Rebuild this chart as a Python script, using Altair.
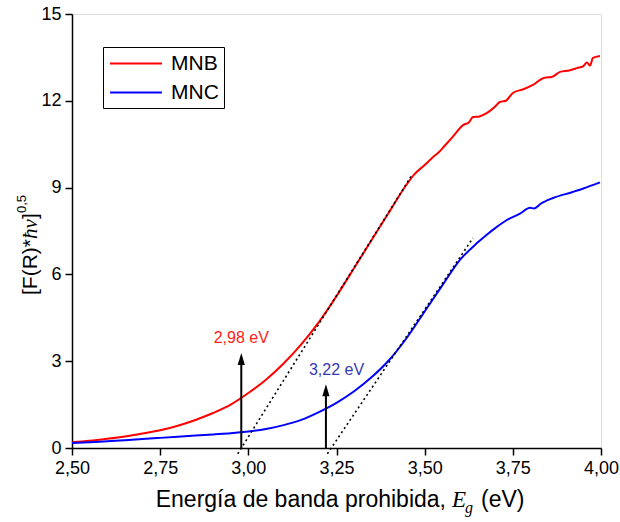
import altair as alt
import pandas as pd

# Sample spectra: photon energy (eV) vs Kubelka-Munk transform [F(R)*hv]^0.5
energy_mnb = [2.50, 2.55, 2.60, 2.65, 2.70, 2.75, 2.80, 2.85, 2.90, 2.95,
              3.00, 3.05, 3.10, 3.15, 3.20, 3.25, 3.30, 3.35, 3.40, 3.444,
              3.47, 3.50, 3.524, 3.54, 3.555, 3.58, 3.609, 3.625, 3.637, 3.655,
              3.677, 3.70, 3.713, 3.73, 3.75, 3.78, 3.807, 3.84, 3.86, 3.884,
              3.91, 3.932, 3.95, 3.96, 3.969, 3.977, 3.997]
mnb = [0.20, 0.25, 0.32, 0.40, 0.50, 0.61, 0.77, 0.97, 1.21, 1.50,
       1.90, 2.36, 2.92, 3.58, 4.35, 5.25, 6.22, 7.20, 8.17, 9.02,
       9.45, 9.78, 10.06, 10.22, 10.42, 10.76, 11.16, 11.25, 11.44, 11.46,
       11.58, 11.80, 11.96, 12.00, 12.27, 12.40, 12.55, 12.80, 12.82, 13.00,
       13.05, 13.13, 13.20, 13.32, 13.22, 13.48, 13.55]

energy_mnc = [2.50, 2.55, 2.60, 2.65, 2.70, 2.75, 2.80, 2.85, 2.90, 2.95,
              3.00, 3.05, 3.10, 3.15, 3.20, 3.25, 3.30, 3.35, 3.40, 3.45,
              3.50, 3.521, 3.55, 3.60, 3.65, 3.677, 3.70, 3.733, 3.77, 3.799,
              3.81, 3.83, 3.864, 3.92, 3.95, 3.997]
mnc = [0.17, 0.20, 0.23, 0.27, 0.31, 0.35, 0.39, 0.43, 0.47, 0.51,
       0.57, 0.66, 0.79, 0.97, 1.24, 1.56, 1.96, 2.45, 3.05, 3.82,
       4.72, 5.10, 5.62, 6.50, 7.10, 7.38, 7.60, 7.88, 8.10, 8.30,
       8.28, 8.45, 8.64, 8.85, 8.97, 9.18]

samples = ["MNB", "MNC"]
line_colors = ["#ff0000", "#0000ff"]

# Band-gap estimates (x-intercept of the linear fit) and tangent segments
band_gap = [2.98, 3.22]
gap_labels = ["2,98 eV", "3,22 eV"]
gap_label_colors = ["#ff2020", "#3838b4"]
tangent_x = [[2.970, 3.465], [3.224, 3.637]]
tangent_y = [[-0.20, 9.46], [-0.20, 7.26]]
arrow_top = [3.08, 2.00]
label_x = [2.98, 3.25]
label_y = [3.80, 2.70]

x_ticks = [2.50, 2.75, 3.00, 3.25, 3.50, 3.75, 4.00]
y_ticks = [0, 3, 6, 9, 12, 15]

SANS = "Liberation Sans"
SERIF = "Liberation Serif"

curves = pd.concat([
    pd.DataFrame({"E": energy_mnb, "v": mnb, "muestra": "MNB"}),
    pd.DataFrame({"E": energy_mnc, "v": mnc, "muestra": "MNC"}),
])
tangents = pd.concat([
    pd.DataFrame({"E": tangent_x[i], "v": tangent_y[i], "muestra": samples[i]})
    for i in range(2)
])
arrows = pd.DataFrame({"E": band_gap, "top": arrow_top, "base": [0, 0]})
notes = pd.DataFrame({"E": label_x, "v": label_y, "txt": gap_labels, "col": gap_label_colors})

axis_common = dict(
    title=None, grid=False, tickSize=7, tickWidth=1.5, tickColor="black",
    domainColor="black", domainWidth=1.5, labelFont=SANS, labelFontSize=18,
    labelColor="black", labelPadding=4, labelFlush=False, labelOverlap=False,
)

x_enc = alt.X("E:Q", scale=alt.Scale(domain=[2.5, 4.0], nice=False),
              axis=alt.Axis(values=x_ticks, format=".2f",
                            labelExpr="replace(datum.label, '.', ',')", **axis_common))
y_enc = alt.Y("v:Q", scale=alt.Scale(domain=[0, 15], nice=False),
              axis=alt.Axis(values=y_ticks, format="d", **axis_common))

# Legend key: a long flat stroke drawn from a compact symbol footprint
legend_key = "M-0.905,0 L4.048,0"

lines = alt.Chart(curves).mark_line(strokeWidth=2, interpolate="monotone").encode(
    x=x_enc, y=y_enc,
    color=alt.Color("muestra:N",
                    scale=alt.Scale(domain=samples, range=line_colors),
                    legend=alt.Legend(
                        title=None, orient="none", legendX=31, legendY=33,
                        direction="vertical", symbolType=legend_key,
                        symbolSize=441, symbolStrokeWidth=2,
                        labelFont=SANS, labelFontSize=21, labelColor="black",
                        labelOffset=40, rowPadding=7, padding=5,
                        strokeColor="black", fillColor="white", cornerRadius=0,
                    )),
    order="E:Q",
)

# dotted linear fits, drawn over the curves
fits = alt.Chart(tangents).mark_line(
    color="black", strokeWidth=1.6, strokeDash=[2, 3]
).encode(x="E:Q", y="v:Q", detail="muestra:N")

shafts = alt.Chart(arrows).mark_rule(color="black", strokeWidth=2).encode(
    x="E:Q", y="base:Q", y2="top:Q"
)
heads = alt.Chart(arrows).mark_point(
    shape="M0,-1 L0.6,1 L-0.6,1 Z", filled=True, size=144, color="black", opacity=1
).encode(x="E:Q", y=alt.Y("top:Q"))

gap_text = alt.Chart(notes).mark_text(font=SANS, fontSize=16, baseline="middle").encode(
    x="E:Q", y="v:Q", text="txt:N", color=alt.Color("col:N", scale=None)
)


def piece(text, x, y, size, font=SANS, italic=False, angle=0, align="left"):
    return alt.Chart(pd.DataFrame({"t": [text]})).mark_text(
        align=align, baseline="alphabetic", font=font, fontSize=size,
        fontStyle="italic" if italic else "normal", angle=angle, color="black",
    ).encode(x=alt.value(x), y=alt.value(y), text="t:N")


# x-axis title: Energía de banda prohibida, E_g (eV)
x_title = [
    piece("Energía de banda prohibida,", 374, 493, 23, align="right"),
    piece("E", 380, 493, 23, font=SERIF, italic=True),
    piece("g", 393, 499, 16, font=SERIF, italic=True),
    piece("(eV)", 409, 493, 23),
]
# y-axis title: [F(R)*ħν]^0,5 (rotated)
y_title = [
    piece("[F(R)*", -35, 281, 21, angle=270),
    piece("ħν", -35, 225, 21, font=SERIF, italic=True, angle=270),
    piece("]", -35, 205, 21, angle=270),
    piece("0,5", -46, 199, 13, angle=270),
]

chart = alt.layer(
    lines, fits, shafts, heads, gap_text, *x_title, *y_title
).properties(
    width=529, height=434,
    autosize=alt.AutoSizeParams(type="none"),
    padding={"left": 72, "top": 14, "right": 19, "bottom": 74},
).configure_view(
    stroke="black", strokeWidth=1.5
).configure(background="white")

chart.save("out.html", embed_options={"renderer": "svg", "actions": False})
